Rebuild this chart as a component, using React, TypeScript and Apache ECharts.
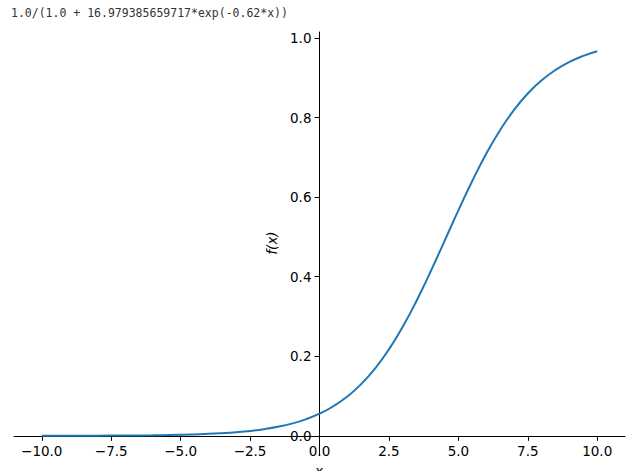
import React, { useEffect, useRef } from "react";
import * as echarts from "echarts";

const titleText = "1.0/(1.0 + 16.979385659717*exp(-0.62*x))";
const xValues = [
  -10, -9, -8, -7, -6, -5, -4, -3.5, -3, -2.5, -2, -1.5, -1, -0.5, 0, 0.5, 1, 1.5, 2, 2.5, 3, 3.5, 4,
  4.5, 5, 5.5, 6, 6.5, 7, 7.5, 8, 8.5, 9, 9.5, 10,
];
const yValues = [
  0.00012, 0.00022, 0.00041, 0.00077, 0.00143, 0.00265, 0.00491, 0.00668, 0.00909, 0.01235, 0.01676,
  0.02271, 0.03069, 0.0414, 0.05562, 0.0743, 0.09867, 0.12989, 0.16911, 0.21721, 0.27449, 0.3403,
  0.4129, 0.4895, 0.5666, 0.64061, 0.70848, 0.76817, 0.81876, 0.86033, 0.89359, 0.91968, 0.9398,
  0.95513, 0.96669,
];
const xTicks = [-10, -7.5, -5, -2.5, 0, 2.5, 5, 7.5, 10];
const yTicks = [0, 0.2, 0.4, 0.6, 0.8, 1.0];

const fmt = (v: number) => {
  const s = Math.abs(v).toFixed(1);
  return v < 0 ? "\u2212" + s : s;
};

const GRID = { left: 14, right: 7, top: 32, bottom: 16 };
const W = 632;
const H = 471;

export default function App() {
  const ref = useRef<HTMLDivElement>(null);
  useEffect(() => {
    if (!ref.current) return;
    const chart = echarts.init(ref.current, null, { renderer: "svg" });
    const font = "DejaVu Sans";
    chart.setOption({
      animation: false,
      backgroundColor: "#ffffff",
      grid: {
        ...GRID,
        containLabel: false,
        outerBoundsMode: "none",
      },
      xAxis: {
        type: "value",
        min: -11,
        max: 11,
        position: "bottom",
        axisLine: { onZero: false, lineStyle: { color: "#000", width: 1 } },
        axisTick: {
          show: true,
          inside: false,
          length: 5,
          customValues: xTicks,
          lineStyle: { color: "#000", width: 1 },
        },
        axisLabel: {
          customValues: xTicks,
          formatter: (v: number) => fmt(v),
          margin: 8,
          fontFamily: font,
          fontSize: 13.5,
          color: "#000",
        },
        splitLine: { show: false },
      },
      yAxis: {
        type: "value",
        min: -0.0482,
        max: 1.015,
        position: "left",
        axisLine: { show: true, onZero: false, lineStyle: { color: "#000", width: 1 } },
        axisTick: {
          show: true,
          inside: false,
          length: 5,
          customValues: yTicks,
          lineStyle: { color: "#000", width: 1 },
        },
        axisLabel: {
          customValues: yTicks,
          formatter: (v: number) => fmt(v),
          margin: 8,
          fontFamily: font,
          fontSize: 13.5,
          color: "#000",
        },
        splitLine: { show: false },
      },
      series: [
        {
          type: "line",
          data: xValues.map((x, i) => [x, yValues[i]]),
          smooth: true,
          showSymbol: false,
          symbol: "none",
          lineStyle: { color: "#1f77b4", width: 2 },
        },
      ],
      graphic: [
        {
          type: "text",
          left: 11,
          top: 7,
          style: {
            text: titleText,
            fontFamily: "DejaVu Sans Mono",
            fontSize: 11.5,
            fill: "#333",
          },
        },
        {
          type: "text",
          x: 272,
          y: 243,
          rotation: Math.PI / 2,
          style: {
            text: "f(x)",
            fontFamily: font,
            fontStyle: "italic",
            fontSize: 13.5,
            fill: "#000",
            align: "center",
            verticalAlign: "middle",
          },
        },
        {
          type: "text",
          x: 319,
          y: 464,
          style: {
            text: "x",
            fontFamily: font,
            fontStyle: "italic",
            fontSize: 13.5,
            fill: "#000",
            align: "center",
            verticalAlign: "top",
          },
        },
      ],
    });
    // Move the spines to the data origin (sympy-style centred axes)
    const px = chart.convertToPixel({ xAxisIndex: 0 }, 0) as number;
    const py = chart.convertToPixel({ yAxisIndex: 0 }, 0) as number;
    chart.setOption({
      yAxis: { offset: -(px - GRID.left) },
      xAxis: { offset: -(H - GRID.bottom - py) },
    });
    return () => chart.dispose();
  }, []);
  return <div ref={ref} style={{ width: W, height: H, position: "absolute", left: 0, top: 0 }} />;
}
